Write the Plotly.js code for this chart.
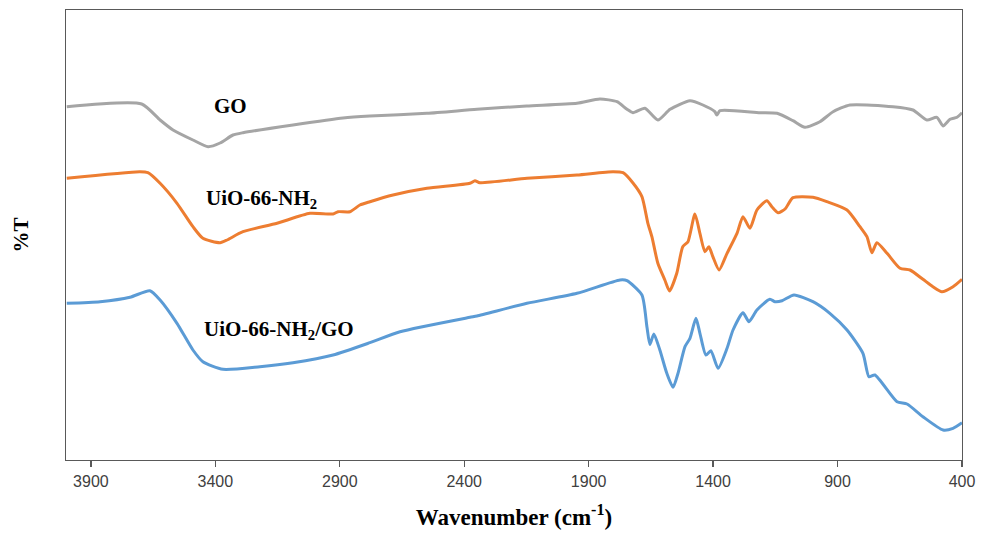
<!DOCTYPE html>
<html>
<head>
<meta charset="utf-8">
<script src="https://cdn.plot.ly/plotly-3.0.1.min.js"></script>
<style>html,body{margin:0;padding:0;background:#fff;}#chart{width:982px;height:539px;}</style>
</head>
<body>
<div id="chart"></div>
<script>
// Wavenumber (cm-1) and relative %T (arbitrary offset units)
const goWavenumber = [3997,3696,3622,3570,3490,3429,3381,3329,3289,3088,2887,2779,2550,2349,2149,1947,1855,1786,1746,1722,1674,1622,1573,1493,1441,1393,1385,1372,1212,1143,1079,1031,971,918,850,677,597,541,501,476,448,420,400];
const goT = [353.3,356,340,330,320,313.3,317,325,327.3,335,342,344,346.7,350.7,354,356.7,361,358.3,350.7,347.3,351.7,340,350.7,359.3,355,348.3,345,349.3,347.3,346.7,339.3,332.7,338.3,348.3,355,353.3,350,340,342.7,334,340.7,342.7,347.3];

const uioWavenumber = [3997,3703,3671,3622,3554,3490,3450,3381,3353,3289,3152,3020,2927,2907,2859,2819,2779,2686,2550,2377,2357,2337,2148,1947,1802,1762,1722,1686,1662,1646,1622,1594,1575,1546,1522,1501,1473,1453,1433,1417,1401,1376,1344,1304,1280,1252,1224,1184,1164,1139,1111,1079,999,943,862,810,782,762,742,701,649,609,557,517,481,436,400];
const uioT = [281.7,288.3,287.3,276.7,256.7,233.3,221.7,217.3,220,228.3,236.7,246.7,246,248.3,248.3,255,258.3,265,271.7,276.7,279.3,277.3,281.7,285,288.3,287.3,277,263.3,236.7,223.3,196.7,180,169,186.7,213.3,218.3,246,226.7,208.3,213.3,203.3,190,206.7,226.7,243.3,231.7,250,259.3,253.3,247.3,251,262.3,262.7,258.3,250,233.3,223.3,207.3,217.3,206.7,191.7,190,180.7,173.3,168.3,173.3,180.7];

const uioGoWavenumber = [3997,3863,3743,3663,3622,3554,3490,3450,3369,3221,3088,2927,2779,2658,2377,2349,2148,1947,1774,1746,1686,1666,1654,1638,1614,1586,1561,1541,1513,1493,1469,1453,1429,1409,1380,1344,1320,1280,1256,1224,1172,1151,1123,1075,999,931,862,798,774,750,661,621,557,476,436,400];
const uioGoT = [156.7,158.3,162.7,169.3,160,136.7,110,98.3,90.7,93.3,97.3,105,117.3,128.3,142.7,144,156.7,166.7,180,179.3,165,133.3,115.5,126,110,86.7,72.7,86.7,113.3,121.7,141.7,126.7,105,109.3,91.7,111.7,130,147.3,138.3,150,160.7,158.3,159.3,165,158.3,146.7,130,106.7,83.3,85,58.3,56,43.3,30,31.7,37.3];

const tickValues = [3900,3400,2900,2400,1900,1400,900,400];
const tickLabels = ["3900","3400","2900","2400","1900","1400","900","400"];

const seriesNames = ["GO","UiO-66-NH<sub>2</sub>","UiO-66-NH<sub>2</sub>/GO"];
const labelPos = [[3339,354],[3446,261],[3455,130]];

const serif = "'Liberation Serif', 'Times New Roman', serif";

const traces = [
  {x: goWavenumber, y: goT, name: "GO", mode: "lines", line: {color: "#A5A5A5", width: 3, shape: "spline", smoothing: 0.6}},
  {x: uioWavenumber, y: uioT, name: "UiO-66-NH2", mode: "lines", line: {color: "#ED7D31", width: 3, shape: "spline", smoothing: 0.6}},
  {x: uioGoWavenumber, y: uioGoT, name: "UiO-66-NH2/GO", mode: "lines", line: {color: "#5B9BD5", width: 3, shape: "spline", smoothing: 0.6}}
];

const annotations = seriesNames.map((t, i) => ({
  x: labelPos[i][0], y: labelPos[i][1], xref: "x", yref: "y",
  text: "<b>" + t + "</b>", showarrow: false,
  xanchor: i === 0 ? "center" : "left", yanchor: "middle",
  font: {family: serif, size: 21, color: "#000"}
}));

const layout = {
  width: 982, height: 539,
  margin: {l: 66, r: 20, t: 10, b: 79},
  paper_bgcolor: "#fff", plot_bgcolor: "#fff",
  showlegend: false,
  xaxis: {
    range: [4000, 400], tickvals: tickValues, ticktext: tickLabels,
    showgrid: false, zeroline: false,
    showline: true, mirror: true, linecolor: "#595959", linewidth: 1.3,
    ticks: "outside", ticklen: 6, tickcolor: "#595959", tickwidth: 1.3,
    tickfont: {family: "'Liberation Sans', Arial, sans-serif", size: 16, color: "#404040"},
    title: {text: "<b>Wavenumber (cm<sup>-1</sup>)</b>", font: {family: serif, size: 23, color: "#000"}, standoff: 20}
  },
  yaxis: {
    range: [0, 450], showticklabels: false, ticks: "",
    showgrid: false, zeroline: false,
    showline: true, mirror: true, linecolor: "#595959", linewidth: 1.3,
    title: {text: "<b>%T</b>", font: {family: serif, size: 21, color: "#000"}, standoff: 30}
  },
  annotations: annotations
};

Plotly.newPlot("chart", traces, layout, {displayModeBar: false, staticPlot: true});
</script>
</body>
</html>
